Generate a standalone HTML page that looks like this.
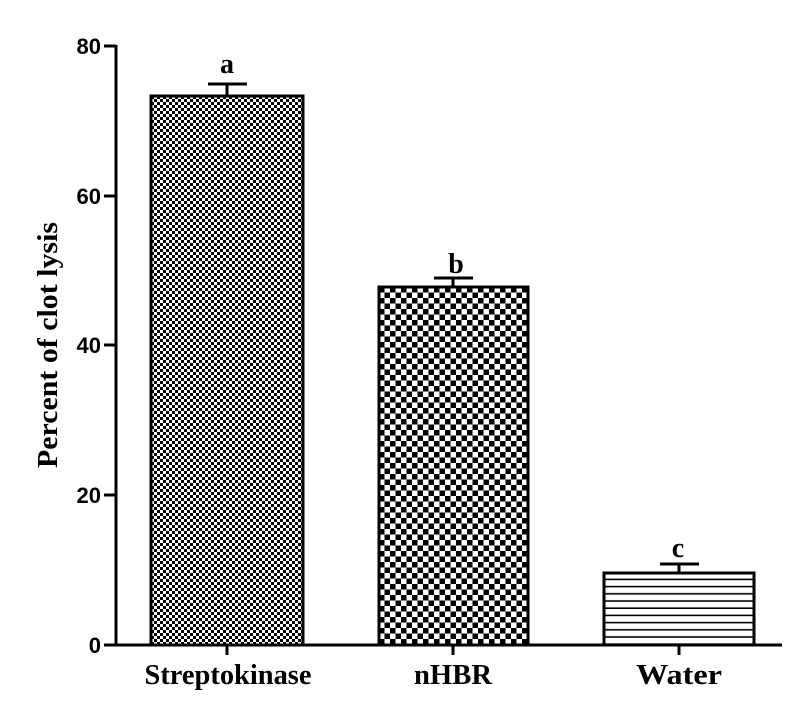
<!DOCTYPE html>
<html><head><style>
body{margin:0;background:#fff}
svg text{font-weight:bold}
</style></head><body>
<svg width="800" height="711" viewBox="0 0 800 711" xmlns="http://www.w3.org/2000/svg">
<defs>
<pattern id="p1" width="6" height="6" patternUnits="userSpaceOnUse" x="151" y="96">
<rect width="6" height="6" fill="#fff"/><rect width="3" height="3" fill="#000"/><rect x="3" y="3" width="3" height="3" fill="#000"/>
</pattern>
<pattern id="p2" width="11" height="11" patternUnits="userSpaceOnUse" x="379" y="287">
<rect width="11" height="11" fill="#fff"/><rect width="5.5" height="5.5" fill="#000"/><rect x="5.5" y="5.5" width="5.5" height="5.5" fill="#000"/>
</pattern>
<pattern id="p3" width="10" height="7.2" patternUnits="userSpaceOnUse" x="0" y="573">
<rect width="10" height="7.2" fill="#fff"/><rect y="5.6" width="10" height="1.6" fill="#000"/>
</pattern>
</defs>
<g stroke="#000" stroke-width="3" fill="none">
<line x1="116" y1="45" x2="116" y2="646"/>
<line x1="104" y1="645" x2="782" y2="645"/>
<line x1="104" y1="46" x2="116" y2="46"/>
<line x1="104" y1="196" x2="116" y2="196"/>
<line x1="104" y1="345" x2="116" y2="345"/>
<line x1="104" y1="495" x2="116" y2="495"/>
<line x1="227" y1="645" x2="227" y2="655"/>
<line x1="453" y1="645" x2="453" y2="655"/>
<line x1="679" y1="645" x2="679" y2="655"/>
</g>
<rect x="151" y="96" width="152" height="549" fill="url(#p1)" stroke="#000" stroke-width="3"/>
<rect x="379" y="287" width="149" height="358" fill="url(#p2)" stroke="#000" stroke-width="3"/>
<rect x="604" y="573" width="150" height="72" fill="url(#p3)" stroke="#000" stroke-width="3"/>
<g stroke="#000" stroke-width="3">
<line x1="227" y1="84" x2="227" y2="96"/><line x1="208" y1="84" x2="247" y2="84"/>
<line x1="453" y1="278" x2="453" y2="287"/><line x1="434" y1="278" x2="473" y2="278"/>
<line x1="679" y1="564" x2="679" y2="573"/><line x1="660" y1="564" x2="699" y2="564"/>
</g>
<g font-family="Liberation Sans, sans-serif" font-size="22" text-anchor="end">
<text x="101" y="54">80</text>
<text x="101" y="204">60</text>
<text x="101" y="353">40</text>
<text x="101" y="503">20</text>
<text x="101" y="653">0</text>
</g>
<g font-family="Liberation Serif, serif" font-size="28" text-anchor="middle">
<text x="227" y="73">a</text>
<text x="456" y="273">b</text>
<text x="678" y="557">c</text>
<text x="228" y="684" textLength="167" lengthAdjust="spacingAndGlyphs">Streptokinase</text>
<text x="453" y="684" textLength="78" lengthAdjust="spacingAndGlyphs">nHBR</text>
<text x="679" y="684" textLength="86" lengthAdjust="spacingAndGlyphs">Water</text>
<text transform="translate(57,345) rotate(-90)" textLength="246" lengthAdjust="spacingAndGlyphs">Percent of clot lysis</text>
</g>
</svg>
</body></html>
